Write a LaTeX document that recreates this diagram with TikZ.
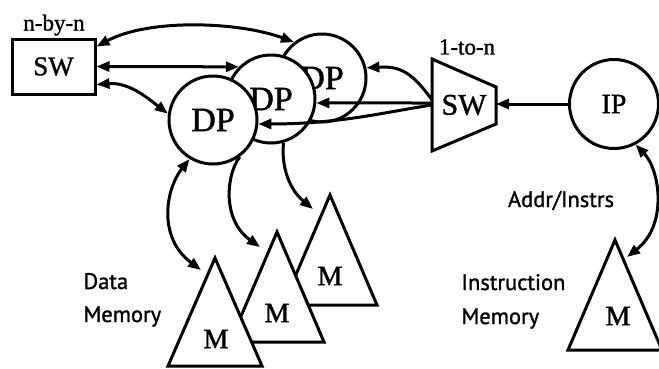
\documentclass[tikz,border=0pt]{standalone}
\usepackage{fontspec}
\setmainfont{Liberation Serif}[FakeBold=1.2]
\newfontfamily\notefont{PT Sans}[FakeBold=1.2]
\usetikzlibrary{arrows.meta}
\begin{document}
\begin{tikzpicture}[x=1pt,y=-1pt,line width=3pt,
  link/.style={-{Triangle[length=13pt,width=10pt]}},
  dlink/.style={{Triangle[length=13pt,width=10pt]}-{Triangle[length=13pt,width=10pt]}},
  proc/.style={circle,draw,fill=white,minimum size=88pt,inner sep=0pt,
    font=\fontsize{34}{34}\selectfont},
  unit/.style={draw,fill=white,inner sep=0pt},
  fsize/.style={font=\fontsize{#1}{#1}\selectfont},
  note/.style={inner sep=0pt,font=\notefont\fontsize{22.5}{22.5}\selectfont},
  toplabel/.style={inner sep=0pt,font=\fontsize{23}{23}\selectfont}]
\useasboundingbox (0,0) rectangle (659,368);

% n-by-n crossbar
\node[unit,minimum width=83pt,minimum height=55pt,fsize=27] (xbar) at (53.5,66.5) {SW};
\node[toplabel] (xbarlbl) at (54,25) {n-by-n};

% data processors, back to front
\node[proc] (dp3) at (322,78) {DP};
\node[proc] (dp2) at (271,99) {DP};
\node[proc] (dp1) at (213,120) {DP};

% instruction processor
\node[proc,minimum size=89pt,fsize=28] (ip) at (614,104) {IP};

% 1-to-n switch
\draw[fill=white] (432,59) -- (496,87) -- (496,124) -- (432,151) -- cycle;
\node[fsize=30,inner sep=0pt] (fan) at (464,105) {SW};
\node[toplabel] (fanlbl) at (467,47) {1-to-n};
\coordinate (fanL) at (432,103);
\coordinate (fanR) at (496,104);

% data memories, back to front
\draw[fill=white] (330,195) -- (377,305) -- (283,305) -- cycle;
\node[fsize=28,inner sep=0pt] (m3) at (330,276) {M};
\draw[fill=white] (277,232) -- (324,342) -- (230,342) -- cycle;
\node[fsize=28,inner sep=0pt] (m2) at (277,313) {M};
\draw[fill=white] (215,258) -- (262,366) -- (168,366) -- cycle;
\node[fsize=28,inner sep=0pt] (m1) at (216,339) {M};

% instruction memory
\draw[fill=white] (615,240) -- (662,350) -- (568,350) -- cycle;
\node[fsize=28,inner sep=0pt] (mi) at (618,316) {M};

\coordinate (m1tip) at (201,270);
\coordinate (m2tip) at (260,247);
\coordinate (m3tip) at (313,209);
\coordinate (mitip) at (627,257);

% crossbar links
\draw[dlink] ([yshift=20pt]xbar.east) .. controls (150,18) and (240,22) .. (dp3.128);
\draw[dlink] (xbar.east) -- (dp2.135);
\draw[dlink] ([yshift=-18pt]xbar.east) .. controls (130,82) and (150,100) .. (dp1.172);

% broadcast from the instruction processor
\draw[link] (ip.west) -- (fanR);
\draw[link] ([yshift=3pt]fanL) .. controls (412,72) and (400,66) .. (dp3.13);
\draw[link] (fanL) -- (dp2.-5);
\draw[link] ([yshift=-2pt]fanL) .. controls (385,112) and (340,124) .. (dp1.-5);

% memory links
\draw[dlink] (dp1.-121) .. controls (165,190) and (158,238) .. (m1tip);
\draw[link] (dp1.-54) .. controls (226,175) and (222,220) .. (m2tip);
\draw[link] (dp2.-74) .. controls (281,168) and (290,190) .. (m3tip);
\draw[dlink] (ip.-62) .. controls (660,170) and (668,225) .. (mitip);

% captions
\node[note,anchor=base] (addr) at (561,207) {Addr/Instrs};
\node[note,anchor=base west] (data1) at (82,289) {Data};
\node[note,anchor=base west] (data2) at (82,322) {Memory};
\node[note,anchor=base west] (inst1) at (460,290) {Instruction};
\node[note,anchor=base west] (inst2) at (460,324) {Memory};
\end{tikzpicture}
\end{document}
